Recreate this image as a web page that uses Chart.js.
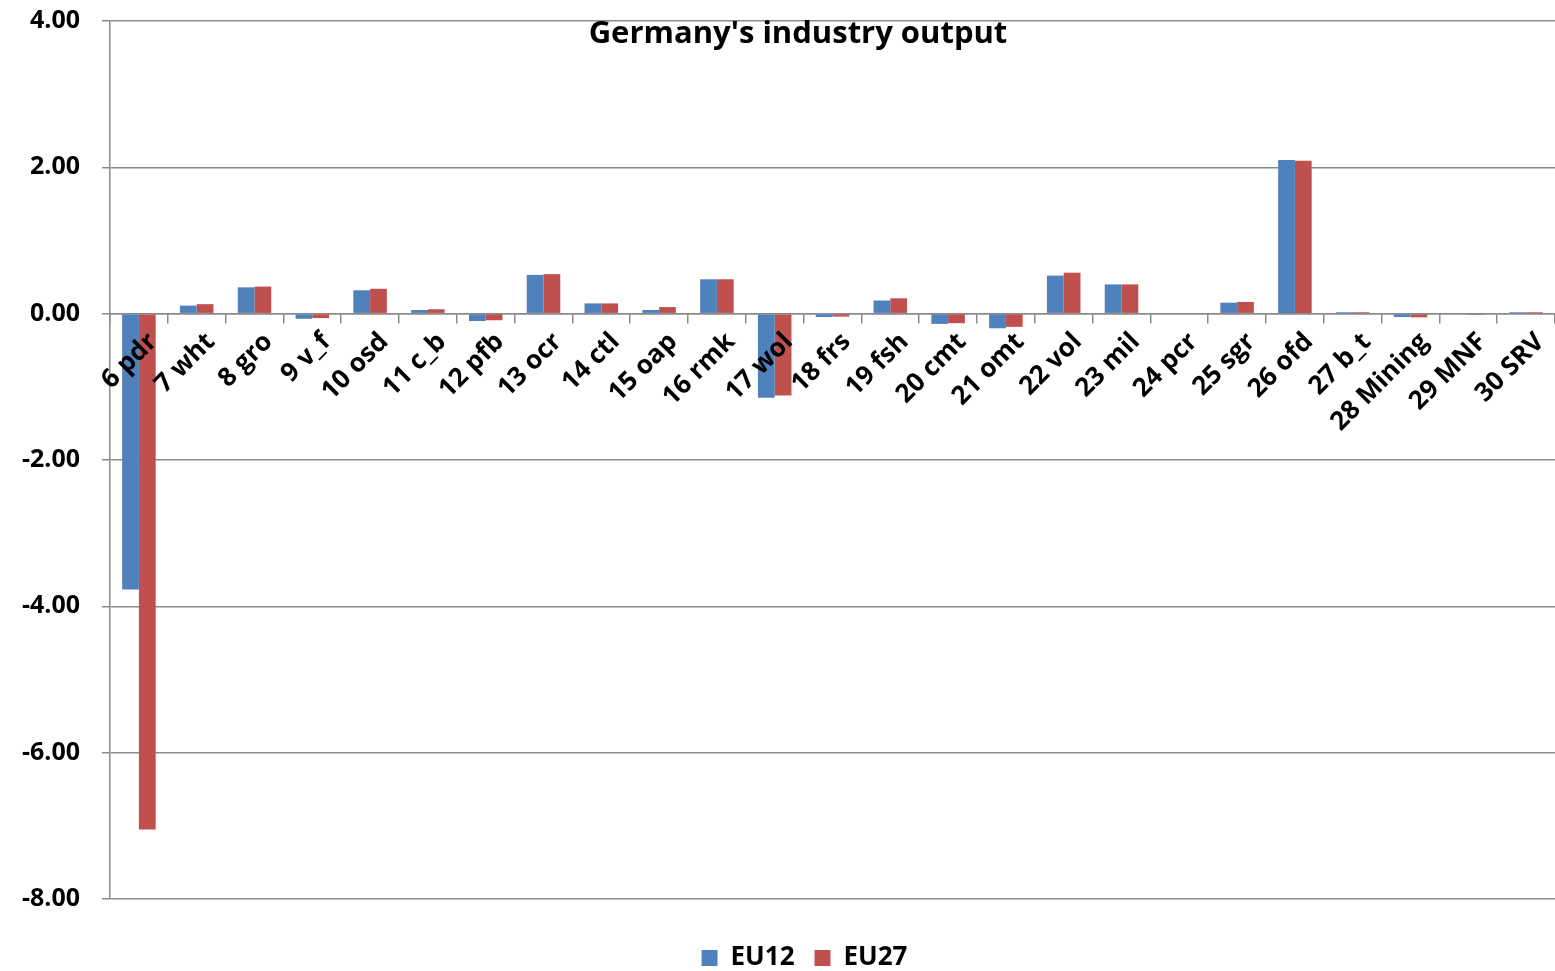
<!DOCTYPE html>
<html>
<head>
<meta charset="utf-8">
<title>Germany's industry output</title>
<script src="https://cdn.jsdelivr.net/npm/chart.js@4.4.0/dist/chart.umd.min.js"></script>
<style>
  html, body { margin: 0; padding: 0; background: #fff; }
  #wrap { width: 1555px; height: 971px; }
</style>
</head>
<body>
<div id="wrap"><canvas id="output-graph"></canvas></div>
<script>
// Sectors and output change per scenario
var sectors = ["6 pdr", "7 wht", "8 gro", "9 v_f", "10 osd", "11 c_b", "12 pfb", "13 ocr",
  "14 ctl", "15 oap", "16 rmk", "17 wol", "18 frs", "19 fsh", "20 cmt", "21 omt", "22 vol",
  "23 mil", "24 pcr", "25 sgr", "26 ofd", "27 b_t", "28 Mining", "29 MNF", "30 SRV"];
var eu12 = [-3.77, 0.11, 0.36, -0.07, 0.32, 0.05, -0.10, 0.53,
  0.14, 0.05, 0.47, -1.15, -0.045, 0.18, -0.14, -0.20, 0.52,
  0.40, 0.00, 0.15, 2.10, 0.02, -0.045, 0.00, 0.02];
var eu27 = [-7.05, 0.13, 0.37, -0.06, 0.34, 0.06, -0.09, 0.54,
  0.14, 0.09, 0.47, -1.12, -0.04, 0.21, -0.13, -0.18, 0.56,
  0.40, 0.00, 0.16, 2.09, 0.02, -0.05, -0.005, 0.02];
var yMin = -8, yMax = 4, yStep = 2;

var FONT = "'Open Sans', 'DejaVu Sans', sans-serif";
var GRID = "#8a8a8a";

// chart title sits inside the plot area, so it is drawn by hand
var titlePlugin = {
  id: 'innerTitle',
  afterLayout: function(chart) {
    // legend centred under the plot rather than the whole canvas, and pushed into the bottom padding
    var lg = chart.legend;
    lg.left = 54;
    lg.top += 26;
    lg.bottom += 26;
  },
  afterDraw: function(chart) {
    var c = chart.ctx;
    c.save();
    c.font = "bold 31px " + FONT;
    c.fillStyle = "#000";
    c.textAlign = "center";
    c.textBaseline = "middle";
    c.fillText("Germany's industry output", 798, 34);
    c.restore();
  }
};

var ctx = document.getElementById("output-graph").getContext("2d");
var OutputChart = new Chart(ctx, {
  type: 'bar',
  data: {
    labels: sectors,
    datasets: [
      { label: "EU12", data: eu12, backgroundColor: "#4F81BD" },
      { label: "EU27", data: eu27, backgroundColor: "#C0504D" }
    ]
  },
  options: {
    responsive: true,
    maintainAspectRatio: false,
    animation: false,
    categoryPercentage: 0.58,
    barPercentage: 1.0,
    layout: { padding: { left: 0, right: 0, top: 21, bottom: 16 } },
    plugins: {
      title: { display: false },
      tooltip: { enabled: false },
      legend: {
        position: 'bottom',
        labels: {
          boxWidth: 16,
          boxHeight: 16,
          padding: 20,
          color: "#000",
          font: { family: FONT, size: 26, weight: 'bold' }
        }
      }
    },
    scales: {
      x: {
        position: { y: 0 },
        afterFit: function(s) { s.height = 64; s.paddingLeft = 0; s.paddingRight = 0; },
        grid: {
          drawOnChartArea: false,
          drawTicks: true,
          tickLength: 9,
          color: GRID,
          lineWidth: 1.5,
          offset: true
        },
        border: { color: GRID, width: 1.5 },
        ticks: {
          z: 1, // sector names are written over the bars
          autoSkip: false,
          maxRotation: 45,
          minRotation: 45,
          padding: 4,
          labelOffset: 14,
          color: "#000",
          font: { family: FONT, size: 26, weight: 'bold' }
        }
      },
      y: {
        min: yMin,
        max: yMax,
        afterFit: function(s) { s.width = 110; s.paddingTop = 0; s.paddingBottom = 0; },
        grid: {
          color: GRID,
          lineWidth: 1.5,
          tickLength: 8
        },
        border: { color: GRID, width: 1.5 },
        ticks: {
          stepSize: yStep,
          padding: 22,
          color: "#000",
          font: { family: FONT, size: 25, weight: 'bold' },
          callback: function(v) { return v.toFixed(2); }
        }
      }
    }
  },
  plugins: [titlePlugin]
});
</script>
</body>
</html>
